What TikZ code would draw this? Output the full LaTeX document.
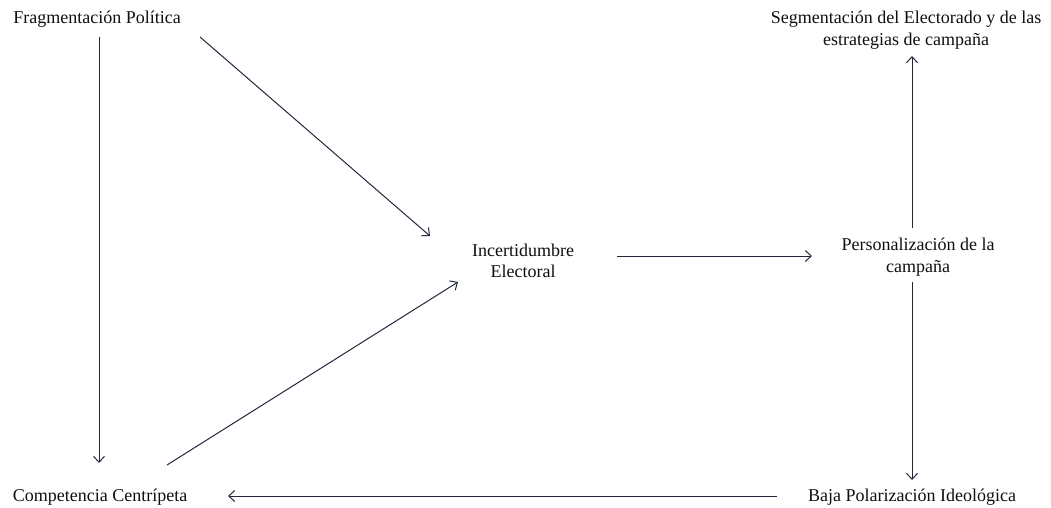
\documentclass[tikz,border=0pt]{standalone}
\usepackage{fontspec}
\setmainfont{Liberation Serif}
\usetikzlibrary{arrows.meta}
\definecolor{linecol}{RGB}{32,40,62}
\definecolor{textcol}{RGB}{15,15,15}
\tikzset{
  lbl/.style={inner sep=0pt, align=center, text=textcol, font=\fontsize{18}{21.5}\selectfont},
  arr/.style={draw=linecol, line width=1pt, -{Straight Barb[length=6pt,width=11pt,line width=1pt]}}
}
\begin{document}
\begin{tikzpicture}[x=1pt,y=-1pt]
\useasboundingbox (0,0) rectangle (1051,507);
\node[lbl] (frag) at (97,19) {Fragmentación Política};
\node[lbl] (seg)  at (906,30) {Segmentación del Electorado y de las\\estrategias de campaña};
\node[lbl] (inc)  at (523,261) {Incertidumbre\\Electoral};
\node[lbl] (pers) at (918,257) {Personalización de la\\campaña};
\node[lbl] (comp) at (100,497) {Competencia Centrípeta};
\node[lbl] (baja) at (912,497) {Baja Polarización Ideológica};

\draw[arr] ([shift={(2,18)}]frag.center) -- ([shift={(-1,-34)}]comp.center);
\draw[arr] ([shift={(103,18)}]frag.center) -- ([shift={(-93,-25)}]inc.center);
\draw[arr] ([shift={(67,-32)}]comp.center) -- ([shift={(-65,21)}]inc.center);
\draw[arr] ([shift={(94,-5)}]inc.center) -- ([shift={(-106,-1)}]pers.center);
\draw[arr] ([shift={(-6,-29)}]pers.center) -- ([shift={(6,26)}]seg.center);
\draw[arr] ([shift={(-6,25)}]pers.center) -- ([shift={(0,-17)}]baja.center);
\draw[arr] ([shift={(-135,-1)}]baja.center) -- ([shift={(128,-1)}]comp.center);
\end{tikzpicture}
\end{document}
